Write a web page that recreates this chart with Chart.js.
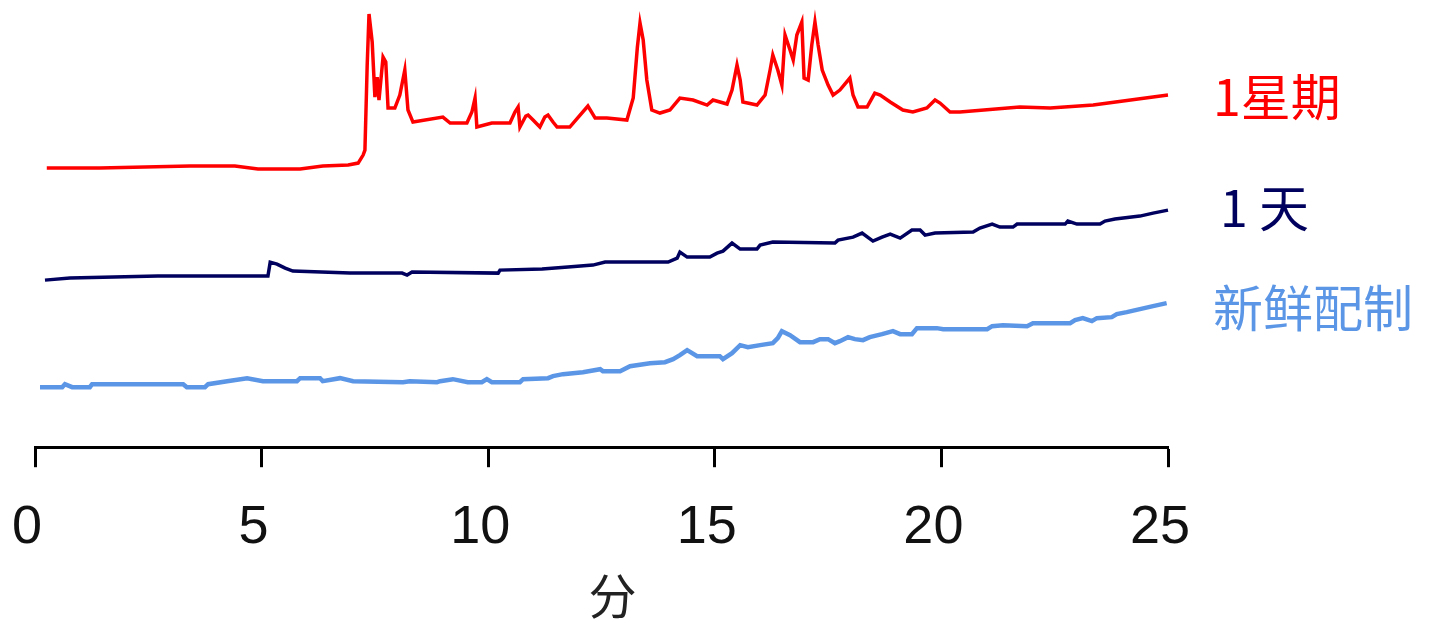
<!DOCTYPE html>
<html lang="zh">
<head>
    <meta charset="UTF-8">
    <title>色谱图 - 稳定性</title>
    <script src="https://cdn.jsdelivr.net/npm/chart.js"></script>
    <style>
        html, body { margin: 0; padding: 0; background: #fff; }
        #wrap { width: 1429px; height: 623px; position: relative; }
    </style>
</head>
<body>
    <div id="wrap">
        <canvas id="chromChart"></canvas>
    </div>

    <script>
        // retention time (min) and detector signal
        const weekTime = [0.26, 1.43, 3.42, 4.41, 4.92, 5.85, 6.35, 6.91, 7.13, 7.24, 7.28, 7.33, 7.37, 7.44, 7.50, 7.55, 7.59, 7.68, 7.74, 7.79,
            7.94, 8.05, 8.16, 8.23, 8.34, 9.00, 9.16, 9.53, 9.64, 9.71, 9.75, 10.08, 10.48, 10.59, 10.66, 10.70, 10.83, 10.88, 10.99, 11.14,
            11.25, 11.32, 11.43, 11.52, 11.80, 12.20, 12.36, 12.62, 13.06, 13.20, 13.29, 13.35, 13.42, 13.50, 13.61, 13.79, 14.01, 14.23, 14.52, 14.83,
            14.96, 15.27, 15.38, 15.49, 15.56, 15.62, 15.93, 16.11, 16.22, 16.28, 16.39, 16.48, 16.55, 16.66, 16.73, 16.81, 16.92, 16.97, 17.06, 17.14,
            17.21, 17.28, 17.37, 17.50, 17.61, 17.76, 17.98, 18.05, 18.16, 18.36, 18.53, 18.65, 18.87, 19.15, 19.37, 19.68, 19.86, 19.97, 20.19, 20.41,
            21.73, 22.40, 23.35, 24.01, 24.67, 25.00];
        const weekSignal = [279, 279, 281, 281, 278, 278, 281, 282, 284, 292, 297, 382, 433, 405, 350, 370, 347, 390, 385, 339,
            339, 352, 377, 337, 325, 330, 324, 324, 335, 349, 320, 324, 324, 335, 340, 320, 331, 332, 327, 320,
            330, 332, 325, 320, 320, 341, 329, 329, 327, 349, 399, 424, 407, 367, 337, 334, 337, 349, 347, 342,
            347, 343, 357, 382, 367, 345, 342, 352, 377, 392, 377, 362, 412, 397, 387, 412, 425, 369, 367, 402,
            425, 402, 377, 362, 352, 357, 369, 352, 340, 340, 354, 352, 345, 337, 335, 339, 347, 344, 335, 335,
            340, 339, 342, 346, 350, 352];

        const dayTime = [0.22, 0.77, 2.71, 5.14, 5.19, 5.34, 5.52, 5.69, 6.95, 8.10, 8.21, 8.32, 10.22, 10.26, 11.19, 11.76, 12.31, 12.58, 13.97, 14.17,
            14.23, 14.39, 14.89, 15.05, 15.18, 15.38, 15.56, 15.93, 16.00, 16.28, 17.65, 17.72, 18.05, 18.25, 18.49, 18.69, 18.87, 19.09, 19.35, 19.53,
            19.64, 19.86, 20.70, 20.85, 21.12, 21.29, 21.58, 21.67, 22.73, 22.79, 22.99, 23.50, 23.61, 23.83, 24.38, 24.67, 25.00, 25.22];
        const daySignal = [167, 169, 171, 171, 185, 183, 179, 176, 174, 174, 172, 175, 174, 177, 178, 180, 182, 185, 185, 189,
            195, 190, 190, 194, 196, 204, 198, 198, 202, 205, 204, 207, 210, 214, 206, 210, 213, 209, 217, 217,
            212, 214, 215, 219, 223, 220, 220, 223, 223, 226, 223, 223, 226, 228, 231, 234, 237, 237];

        const freshTime = [0.11, 0.60, 0.66, 0.82, 1.21, 1.26, 3.27, 3.35, 3.75, 3.82, 4.24, 4.68, 5.03, 5.78, 5.85, 6.29, 6.35, 6.73, 7.02, 8.12,
            8.27, 8.87, 8.94, 9.22, 9.55, 9.86, 9.97, 10.08, 10.70, 10.77, 11.32, 11.43, 11.65, 12.09, 12.47, 12.53, 12.91, 13.13, 13.57, 13.90,
            14.08, 14.23, 14.39, 14.61, 15.11, 15.18, 15.38, 15.56, 15.73, 16.00, 16.28, 16.39, 16.48, 16.66, 16.88, 17.17, 17.32, 17.50, 17.65, 17.76,
            17.94, 18.09, 18.27, 18.42, 18.69, 18.93, 19.09, 19.35, 19.46, 19.90, 20.04, 21.01, 21.12, 21.36, 21.89, 22.02, 22.84, 22.95, 23.12, 23.32,
            23.43, 23.76, 23.87, 24.09, 24.38, 24.67, 24.97];
        const freshSignal = [60, 60, 63, 60, 60, 63, 63, 60, 60, 63, 66, 69, 66, 66, 69, 69, 66, 69, 66, 65,
            66, 65, 66, 68, 65, 65, 68, 65, 65, 68, 69, 71, 73, 75, 78, 76, 76, 81, 84, 85,
            88, 92, 97, 91, 91, 88, 94, 102, 100, 102, 104, 109, 116, 112, 105, 105, 108, 108, 104, 106,
            110, 108, 107, 110, 113, 116, 113, 113, 119, 119, 118, 118, 121, 122, 121, 124, 124, 127, 129, 126,
            129, 130, 133, 135, 138, 141, 144];

        const seriesNames = ['1星期', '1 天', '新鲜配制'];
        const seriesColors = ['#FF0000', '#00005E', '#5B96E6'];
        const xTicks = [0, 5, 10, 15, 20, 25];
        const xTitle = '分';

        function toPoints(xs, ys) {
            return xs.map((x, i) => ({ x: x, y: ys[i] }));
        }

        // series names at the right end of each trace, plus the axis title
        const extraText = {
            id: 'extraText',
            afterDatasetsDraw(chart) {
                const ctx = chart.ctx;
                const area = chart.chartArea;
                const spots = [
                    { dx: 45, dy: 97 },
                    { dx: 52, dy: 208 },
                    { dx: 45, dy: 308 }
                ];
                ctx.save();
                ctx.font = '50px "Noto Sans CJK SC", sans-serif';
                ctx.textBaseline = 'middle';
                ctx.textAlign = 'left';
                seriesNames.forEach((name, i) => {
                    ctx.fillStyle = seriesColors[i];
                    ctx.fillText(name, area.right + spots[i].dx, spots[i].dy);
                });

                ctx.font = '48px "Noto Sans CJK SC", sans-serif';
                ctx.fillStyle = '#222';
                ctx.textAlign = 'center';
                ctx.fillText(xTitle, (area.left + area.right) / 2 + 11, area.bottom + 149);
                ctx.restore();
            }
        };

        const ctx = document.getElementById('chromChart').getContext('2d');
        new Chart(ctx, {
            type: 'line',
            data: {
                datasets: [
                    { label: seriesNames[0], data: toPoints(weekTime, weekSignal), borderColor: seriesColors[0], borderWidth: 3.5 },
                    { label: seriesNames[1], data: toPoints(dayTime, daySignal), borderColor: seriesColors[1], borderWidth: 3.5 },
                    { label: seriesNames[2], data: toPoints(freshTime, freshSignal), borderColor: seriesColors[2], borderWidth: 4.5 }
                ].map(d => Object.assign(d, { pointRadius: 0, tension: 0, fill: false, clip: false }))
            },
            options: {
                responsive: true,
                maintainAspectRatio: false,
                animation: false,
                layout: { padding: { top: 10, left: 35, right: 261, bottom: 33 } },
                plugins: {
                    legend: { display: false },
                    tooltip: { enabled: false }
                },
                scales: {
                    x: {
                        type: 'linear',
                        min: 0,
                        max: 25,
                        afterBuildTicks: axis => { axis.ticks = xTicks.map(v => ({ value: v })); },
                        // the layout padding already leaves room for the end labels
                        afterFit: axis => { axis.paddingLeft = 0; axis.paddingRight = 0; },
                        border: { display: true, color: '#000', width: 3 },
                        grid: { display: true, drawOnChartArea: false, drawTicks: true, tickLength: 20, tickWidth: 3, tickColor: '#000' },
                        ticks: {
                            color: '#111',
                            padding: 29,
                            labelOffset: -8,
                            maxRotation: 0,
                            font: { family: '"Liberation Sans", Arial, sans-serif', size: 54 }
                        },
                        title: { display: false }
                    },
                    y: {
                        display: false,
                        min: 0,
                        max: 437
                    }
                }
            },
            plugins: [extraText]
        });
    </script>
</body>
</html>
